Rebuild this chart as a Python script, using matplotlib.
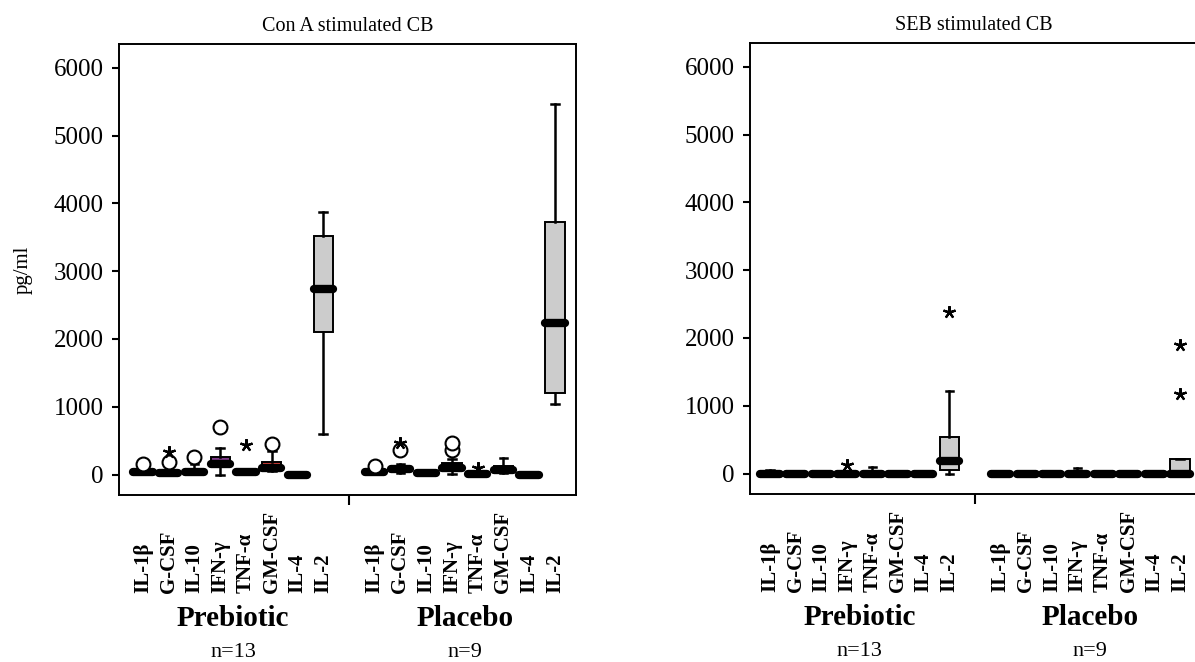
import matplotlib
matplotlib.use("Agg")
import matplotlib.pyplot as plt
from matplotlib.transforms import blended_transform_factory

plt.rcParams['font.family'] = ['Liberation Serif', 'DejaVu Serif']

cytokines = ['IL-1β', 'G-CSF', 'IL-10', 'IFN-γ', 'TNF-α', 'GM-CSF', 'IL-4', 'IL-2']
groups = ['Prebiotic', 'Placebo']
group_n = ['n=13', 'n=9']
yticks = [0, 1000, 2000, 3000, 4000, 5000, 6000]

# Con A stimulated, first 8 = prebiotic, last 8 = placebo (pg/ml)
cona_med = [45, 30, 45, 160, 45, 100, 0, 2730, 45, 90, 30, 100, 10, 70, 0, 2230]
cona_q1 = [30, 15, 30, 150, 30, 90, 0, 2100, 30, 60, 20, 80, 0, 50, 0, 1210]
cona_q3 = [65, 45, 65, 265, 60, 190, 0, 3515, 60, 130, 40, 175, 20, 120, 0, 3720]
cona_lo = [10, 0, 10, 0, 10, 60, 0, 605, 10, 30, 5, 15, 0, 20, 0, 1035]
cona_hi = [90, 120, 160, 400, 80, 350, 0, 3870, 80, 160, 50, 230, 30, 250, 0, 5460]
cona_circles = [[160], [190], [265], [700], [], [450], [], [],
                [120], [370], [], [370, 460], [], [], [], []]
cona_stars = [[], [340], [], [], [440], [], [], [],
              [], [460], [], [], [100], [], [], []]
cona_colors = ['#cccccc', '#cccccc', '#cccccc', '#803a8a', '#cccccc', '#e0413a', '#cccccc', '#cccccc',
               '#cccccc', '#2f6b33', '#cccccc', '#3d2458', '#cccccc', '#8a2b2b', '#cccccc', '#cccccc']

# SEB stimulated
seb_med = [0, 0, 0, 0, 0, 0, 0, 190, 0, 0, 0, 0, 0, 0, 0, 0]
seb_q1 = [0, 0, 0, 0, 0, 0, 0, 60, 0, 0, 0, 0, 0, 0, 0, 0]
seb_q3 = [10, 5, 5, 20, 10, 5, 0, 535, 5, 5, 5, 10, 5, 5, 0, 210]
seb_lo = [0, 0, 0, 0, 0, 0, 0, 0, 0, 0, 0, 0, 0, 0, 0, 0]
seb_hi = [60, 10, 10, 40, 100, 10, 0, 1220, 10, 10, 10, 90, 10, 10, 0, 210]
seb_circles = [[] for _ in range(16)]
seb_stars = [[], [], [], [130], [], [], [], [2390],
             [], [], [], [], [], [], [], [1170, 1900]]
seb_colors = ['#cccccc'] * 16

positions = list(range(1, 9)) + list(range(10, 18))


def draw_panel(ax, title, med, q1, q3, lo, hi, circles, stars, colors, xlim):
    stats = []
    for i in range(len(med)):
        stats.append({'med': med[i], 'q1': q1[i], 'q3': q3[i],
                      'whislo': lo[i], 'whishi': hi[i], 'fliers': []})
    bp = ax.bxp(stats, positions=positions, widths=0.75, patch_artist=True,
                showfliers=False, capwidths=0.3,
                boxprops=dict(edgecolor='black', linewidth=1.4),
                whiskerprops=dict(color='black', linewidth=1.8),
                capprops=dict(color='black', linewidth=1.8),
                medianprops=dict(color='black', linewidth=6,
                                 solid_capstyle='round'))
    for patch, c in zip(bp['boxes'], colors):
        patch.set_facecolor(c)

    for p, vals in zip(positions, circles):
        if vals:
            ax.plot([p] * len(vals), vals, 'o', ms=10, mfc='white',
                    mec='black', mew=1.5, zorder=4)
    for p, vals in zip(positions, stars):
        if vals:
            ax.plot([p] * len(vals), vals, marker=(5, 2, 0), ls='none',
                    ms=9, mec='black', mew=1.6, zorder=4)

    ax.set_xlim(*xlim)
    ax.set_ylim(-300, 6350)
    ax.set_yticks(yticks)
    ax.set_yticklabels([str(v) for v in yticks], fontsize=18)
    ax.tick_params(axis='y', length=5, width=1.5, pad=6)
    ax.set_xticks([9])
    ax.set_xticklabels([''])
    ax.tick_params(axis='x', length=7, width=1.5, direction='out')
    for s in ax.spines.values():
        s.set_linewidth(1.4)
    ax.set_title(title, fontsize=14.5, pad=9)

    trans = blended_transform_factory(ax.transData, ax.transAxes)
    for i, p in enumerate(positions):
        ax.text(p, -0.217, cytokines[i % 8], rotation=90, ha='center',
                va='bottom', fontsize=15, fontweight='bold',
                transform=trans, clip_on=False)
    for g, c in enumerate([4.5, 13.5]):
        ax.text(c, -0.273, groups[g], ha='center', va='center',
                fontsize=21, fontweight='bold', transform=trans)
        ax.text(c, -0.35, group_n[g], ha='center', va='center',
                fontsize=16, transform=trans)


fig = plt.figure(figsize=(11.95, 6.62), dpi=100)
ax1 = fig.add_axes([0.0996, 0.2523, 0.3824, 0.6813])
ax2 = fig.add_axes([0.6276, 0.2538, 0.374, 0.6813])

draw_panel(ax1, 'Con A stimulated CB', cona_med, cona_q1, cona_q3, cona_lo,
           cona_hi, cona_circles, cona_stars, cona_colors, (0.07, 17.82))
draw_panel(ax2, 'SEB stimulated CB', seb_med, seb_q1, seb_q3, seb_lo,
           seb_hi, seb_circles, seb_stars, seb_colors, (0.22, 17.66))

ax1.set_ylabel('pg/ml', fontsize=15, labelpad=15)

fig.savefig('out.png', dpi=100)
